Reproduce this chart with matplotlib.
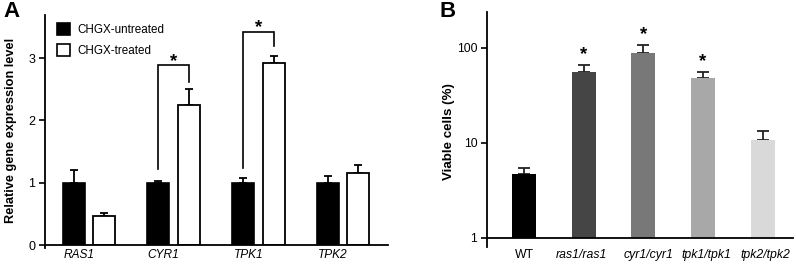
import numpy as np
import matplotlib
matplotlib.use("Agg")
import matplotlib.pyplot as plt
from matplotlib.patches import Patch

plt.rcParams['font.family'] = ['Liberation Sans', 'DejaVu Sans']

# ---- Panel A data ----
genes = ["RAS1", "CYR1", "TPK1", "TPK2"]
untreated = [1.0, 1.0, 1.0, 1.0]
untreated_err = [0.21, 0.03, 0.08, 0.10]
treated = [0.47, 2.24, 2.92, 1.15]
treated_err = [0.05, 0.26, 0.12, 0.14]
legend_labels = ["CHGX-untreated", "CHGX-treated"]
yticks_a = [0, 1, 2, 3]

# ---- Panel B data ----
strains = ["WT", "ras1/ras1", "cyr1/cyr1", "tpk1/tpk1", "tpk2/tpk2"]
viable = [4.65, 56.0, 88.5, 47.6, 10.7]
viable_err = [0.75, 10.0, 18.0, 7.5, 2.6]
strain_colors = ["#000000", "#454545", "#787878", "#a8a8a8", "#d9d9d9"]
significant = [False, True, True, True, False]
yticks_b = [1, 10, 100]

fig = plt.figure(figsize=(7.96, 2.64), dpi=100)
fs = 8.4

# ===== Panel A =====
axA = fig.add_axes([45/796, 19/264, 343/796, 230/264])
x = np.arange(len(genes))
w = 0.26
off = 0.18
axA.bar(x - off, untreated, w, color="black", edgecolor="black", linewidth=1.2, zorder=2)
axA.bar(x + off, treated, w, color="white", edgecolor="black", linewidth=1.3, zorder=2)
axA.errorbar(x - off, untreated, yerr=[np.zeros(4), untreated_err], fmt="none",
             ecolor="black", elinewidth=1.3, capsize=3.2, capthick=1.3, zorder=1)
axA.errorbar(x + off, treated, yerr=[np.zeros(4), treated_err], fmt="none",
             ecolor="black", elinewidth=1.3, capsize=3.2, capthick=1.3, zorder=1)

# significance brackets
brackets = [(1, 1.22, 2.88, 2.62), (2, 1.24, 3.42, 3.19)]
for gi, ylow, ytop, yright in brackets:
    xl, xr = gi - off, gi + off
    axA.plot([xl, xl, xr, xr], [ylow, ytop, ytop, yright], color="black", lw=1.2,
             solid_joinstyle="miter", clip_on=False)
    axA.annotate("*", (gi, ytop), xytext=(0, -3), textcoords="offset points",
                 ha="center", va="bottom", fontsize=13.5, fontweight="bold")

axA.set_xlim(-0.52, 3.53)
axA.set_ylim(0, 3.69)
axA.set_yticks(yticks_a)
axA.set_yticklabels([str(t) for t in yticks_a], fontsize=fs + 0.6)
axA.set_xticks(x - 0.12)
axA.set_xticklabels(genes, fontsize=fs + 0.2, style="italic")
axA.tick_params(axis="x", length=0, pad=3)
axA.tick_params(axis="y", length=4, width=1.2, pad=3)
for s in ["top", "right"]:
    axA.spines[s].set_visible(False)
for s in ["left", "bottom"]:
    axA.spines[s].set_linewidth(1.3)
axA.plot([0, 0], [-0.015, 0], transform=axA.transAxes, color="black", lw=1.3, clip_on=False)
axA.set_ylabel("Relative gene expression level", fontsize=fs + 0.8, fontweight="bold")
axA.yaxis.set_label_coords(17/796, 0.505, transform=fig.transFigure)

handles = [Patch(facecolor="black", edgecolor="black", linewidth=1.2),
           Patch(facecolor="white", edgecolor="black", linewidth=1.2)]
axA.legend(handles, legend_labels, loc="upper left", bbox_to_anchor=(0.01, 1.0),
           frameon=False, fontsize=fs, handlelength=1.15, handleheight=1.15,
           handletextpad=0.6, labelspacing=0.7, borderaxespad=0.3)

fig.text(3/796, 1 - 1/264, "A", fontsize=16, fontweight="bold", ha="left", va="top")

# ===== Panel B =====
axB = fig.add_axes([487/796, 26.3/264, 306/796, 225.7/264])
xb = np.arange(len(strains))
axB.bar(xb, viable, 0.40, color=strain_colors, zorder=2)
axB.errorbar(xb, viable, yerr=[np.zeros(len(xb)), viable_err], fmt="none",
             ecolor="#222222", elinewidth=1.3, capsize=4.3, capthick=1.3, zorder=1)
axB.set_yscale("log")
axB.set_ylim(1, 237)
axB.set_xlim(-0.62, 4.51)
for i, sig in enumerate(significant):
    if sig:
        top = viable[i] + viable_err[i]
        axB.text(xb[i], top * 1.05, "*", ha="center", va="bottom", fontsize=13.5, fontweight="bold")
axB.set_yticks(yticks_b)
axB.set_yticklabels([str(t) for t in yticks_b], fontsize=fs + 0.3)
axB.yaxis.set_minor_locator(matplotlib.ticker.NullLocator())
axB.set_xticks(xb + np.array([0.0, -0.03, 0.08, 0.06, 0.04]))
axB.set_xticklabels(strains, fontsize=fs + 0.4)
for lbl in axB.get_xticklabels()[1:]:
    lbl.set_style("italic")
axB.tick_params(axis="x", length=0, pad=8)
axB.tick_params(axis="y", length=4, width=1.2, pad=3)
for s in ["top", "right"]:
    axB.spines[s].set_visible(False)
for s in ["left", "bottom"]:
    axB.spines[s].set_linewidth(1.3)
axB.plot([0, 0], [-0.04, 0], transform=axB.transAxes, color="black", lw=1.3, clip_on=False)
axB.set_ylabel("Viable cells (%)", fontsize=fs + 1.2, fontweight="bold")
axB.yaxis.set_label_coords(455/796, 0.50, transform=fig.transFigure)

fig.text(440/796, 1 - 1/264, "B", fontsize=16, fontweight="bold", ha="left", va="top")

fig.savefig("out.png", dpi=100)
